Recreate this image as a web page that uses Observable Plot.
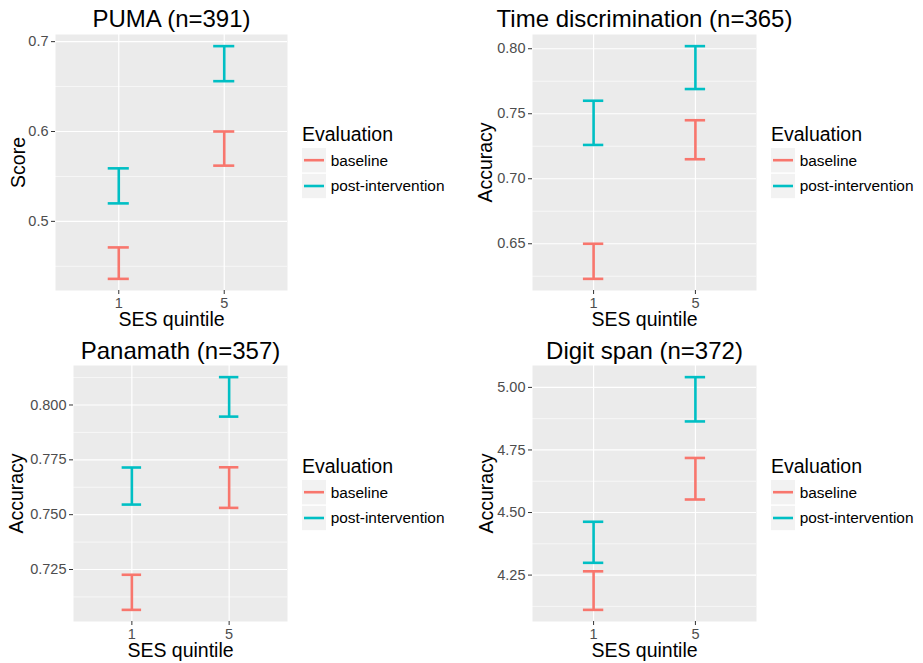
<!DOCTYPE html>
<html><head><meta charset="utf-8">
<script src="https://cdn.jsdelivr.net/npm/d3@7"></script>
<script src="https://cdn.jsdelivr.net/npm/@observablehq/plot@0.6"></script>
<style>
body{margin:0;background:#fff;font-family:"Liberation Sans",Arial,Helvetica,sans-serif;}
#root{position:relative;width:923px;height:663px;overflow:hidden;background:#fff}
#root svg{position:absolute}
</style></head><body><div id="root"></div>
<script>
// ---- data ----
const quintiles = ["1", "5"];
const evaluations = ["baseline", "post-intervention"];
const colors = ["#F8766D", "#00BFC4"];
const titles = ["PUMA (n=391)", "Time discrimination (n=365)", "Panamath (n=357)", "Digit span (n=372)"];
const yLabels = ["Score", "Accuracy", "Accuracy", "Accuracy"];
const xLabel = "SES quintile";
const legendTitle = "Evaluation";
const yTicks = [[0.5, 0.6, 0.7], [0.65, 0.70, 0.75, 0.80], [0.725, 0.750, 0.775, 0.800], [4.25, 4.50, 4.75, 5.00]];
const yTickFormats = [".1f", ".2f", ".3f", ".2f"];
// [lower, upper] error bar bounds for quintile 1 and quintile 5
const pumaBaseline = [[0.436, 0.471], [0.562, 0.600]];
const pumaPost = [[0.520, 0.559], [0.656, 0.695]];
const timeBaseline = [[0.623, 0.650], [0.715, 0.745]];
const timePost = [[0.726, 0.760], [0.769, 0.802]];
const panamathBaseline = [[0.7066, 0.7226], [0.7531, 0.7716]];
const panamathPost = [[0.7546, 0.7715], [0.7947, 0.8127]];
const digitBaseline = [[4.111, 4.265], [4.552, 4.718]];
const digitPost = [[4.299, 4.463], [4.864, 5.041]];
const panelSeries = [[pumaBaseline, pumaPost], [timeBaseline, timePost], [panamathBaseline, panamathPost], [digitBaseline, digitPost]];

// ---- layout ----
const FONT = '"Liberation Sans", Arial, Helvetica, sans-serif';
const layout = [
  {left: 0, top: 0, w: 300, h: 331, mL: 55, mR: 13, mT: 34, mB: 41, yLabDx: -37, titleDy: -15, legX: 302, legY: 118},
  {left: 460, top: 0, w: 300, h: 331, mL: 72, mR: 4, mT: 34, mB: 41, yLabDx: -47, titleDy: -15, legX: 771, legY: 118},
  {left: 0, top: 330, w: 300, h: 333, mL: 73, mR: 13, mT: 35, mB: 42, yLabDx: -57, titleDy: -14, legX: 302, legY: 450},
  {left: 460, top: 330, w: 300, h: 333, mL: 72, mR: 4, mT: 35, mB: 42, yLabDx: -46, titleDy: -14, legX: 771, legY: 450}
];
const root = d3.select("#root");

panelSeries.forEach((series, i) => {
  const L = layout[i];
  const rows = [];
  evaluations.forEach((ev, e) => series[e].forEach(([lo, hi], k) => rows.push({q: k + 1, ev, lo, hi})));
  const lo = d3.min(rows, d => d.lo), hi = d3.max(rows, d => d.hi);
  const pad = (hi - lo) * 0.05;
  const dom = [lo - pad, hi + pad];
  const ticks = yTicks[i];
  const step = ticks[1] - ticks[0];
  const minor = d3.range(ticks[0] - step / 2, ticks[ticks.length - 1] + step, step).filter(v => v > dom[0] && v < dom[1]);
  const xs = quintiles.map((q, k) => k + 1);
  const chart = Plot.plot({
    width: L.w, height: L.h,
    marginLeft: L.mL, marginRight: L.mR, marginTop: L.mT, marginBottom: L.mB,
    x: {domain: [0.4, 2.6], axis: null},
    y: {domain: dom, axis: null},
    color: {domain: evaluations, range: colors},
    style: {fontFamily: FONT, fontSize: "14.5px", background: "transparent", overflow: "visible"},
    marks: [
      Plot.frame({fill: "#EBEBEB", stroke: "none"}),
      Plot.ruleY(minor, {stroke: "white", strokeWidth: 0.6}),
      Plot.ruleY(ticks, {stroke: "white", strokeWidth: 1.2}),
      Plot.ruleX(xs, {stroke: "white", strokeWidth: 1.2}),
      Plot.axisY({ticks, tickFormat: d3.format(yTickFormats[i]), tickSize: 4, tickPadding: 3, color: "#4D4D4D", stroke: "#333333", label: null, fontSize: 14.5}),
      Plot.axisX({ticks: xs, tickFormat: d => quintiles[d - 1], tickSize: 4, tickPadding: 3, color: "#4D4D4D", stroke: "#333333", label: null, fontSize: 14.5}),
      Plot.ruleX(rows, {x: "q", y1: "lo", y2: "hi", stroke: "ev", strokeWidth: 2.6}),
      Plot.ruleY(rows, {y: "lo", x1: d => d.q - 0.1, x2: d => d.q + 0.1, stroke: "ev", strokeWidth: 2.6}),
      Plot.ruleY(rows, {y: "hi", x1: d => d.q - 0.1, x2: d => d.q + 0.1, stroke: "ev", strokeWidth: 2.6}),
      Plot.text([titles[i]], {text: d => d, frameAnchor: "top", lineAnchor: "middle", textAnchor: "middle", dy: L.titleDy, fontSize: 24, fill: "black"}),
      Plot.text([yLabels[i]], {text: d => d, frameAnchor: "left", lineAnchor: "middle", textAnchor: "middle", rotate: -90, dx: L.yLabDx, fontSize: 19.5, fill: "black"}),
      Plot.text([xLabel], {text: d => d, frameAnchor: "bottom", lineAnchor: "middle", textAnchor: "middle", dy: 29, fontSize: 19.5, fill: "black"})
    ]
  });
  d3.select(chart).style("position", "absolute").style("left", L.left + "px").style("top", L.top + "px");
  root.node().appendChild(chart);

  // legend
  const svg = root.append("svg").attr("width", 170).attr("height", 84)
    .style("left", L.legX + "px").style("top", L.legY + "px").style("font-family", FONT);
  svg.append("text").attr("x", 0).attr("y", 23).attr("font-size", 19.5).attr("fill", "black").text(legendTitle);
  evaluations.forEach((ev, e) => {
    const y0 = 30 + e * 25.8;
    svg.append("rect").attr("x", 0).attr("y", y0).attr("width", 24).attr("height", 24.4).attr("fill", "#F2F2F2");
    svg.append("line").attr("x1", 2).attr("x2", 22).attr("y1", y0 + 12.2).attr("y2", y0 + 12.2)
      .attr("stroke", colors[e]).attr("stroke-width", 2.6);
    svg.append("text").attr("x", 28.7).attr("y", y0 + 12.2).attr("dy", "0.35em").attr("font-size", 15.4)
      .attr("fill", "black").text(ev);
  });
});
</script></body></html>
